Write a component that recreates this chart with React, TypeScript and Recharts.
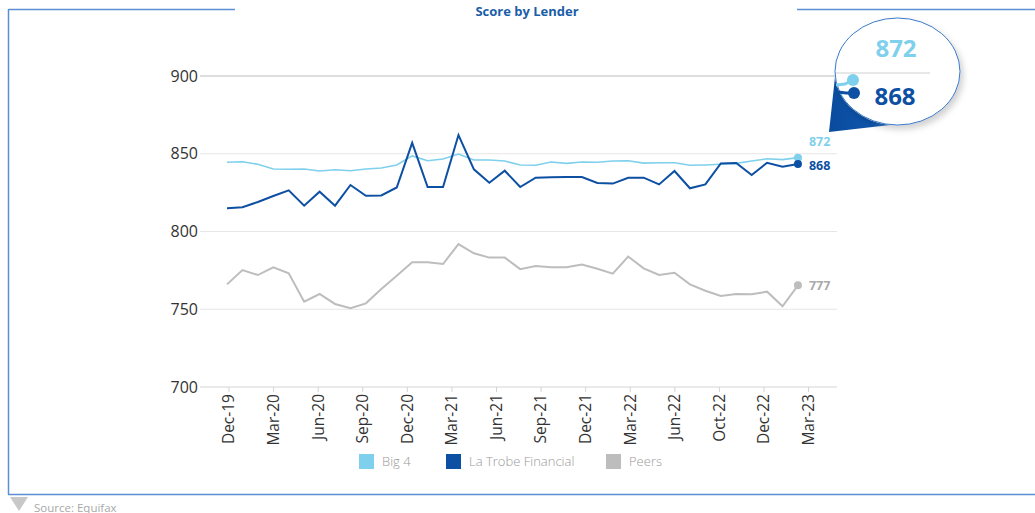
import { LineChart, Line, XAxis, YAxis, CartesianGrid, ReferenceLine } from 'recharts'

const months = [
  'Dec-19', 'Jan-20', 'Feb-20', 'Mar-20', 'Apr-20', 'May-20', 'Jun-20', 'Jul-20', 'Aug-20', 'Sep-20',
  'Oct-20', 'Nov-20', 'Dec-20', 'Jan-21', 'Feb-21', 'Mar-21', 'Apr-21', 'May-21', 'Jun-21', 'Jul-21',
  'Aug-21', 'Sep-21', 'Oct-21', 'Nov-21', 'Dec-21', 'Jan-22', 'Feb-22', 'Mar-22', 'Apr-22', 'May-22',
  'Jun-22', 'Jul-22', 'Aug-22', 'Sep-22', 'Oct-22', 'Nov-22', 'Dec-22', 'Jan-23',
]

const big4 = [
  844.5, 844.9, 843.2, 840.2, 840.0, 840.2, 838.9, 839.7, 839.1, 840.2,
  840.8, 842.8, 848.6, 845.5, 846.6, 849.8, 846.0, 846.0, 845.3, 842.8,
  842.6, 844.7, 843.8, 844.7, 844.5, 845.3, 845.5, 844.0, 844.2, 844.2,
  842.6, 842.8, 843.2, 843.8, 845.3, 846.8, 846.2, 847.5,
]

const laTrobe = [
  815.0, 815.6, 819.0, 822.8, 826.5, 816.6, 825.6, 816.6, 829.9, 823.0,
  823.2, 828.3, 857.0, 828.6, 828.6, 862.0, 840.0, 831.4, 839.1, 828.6,
  834.6, 834.9, 835.0, 835.0, 831.2, 830.8, 834.6, 834.6, 830.3, 838.9,
  827.8, 830.3, 843.8, 844.0, 836.3, 844.2, 841.7, 843.4,
]

const peers = [
  766.0, 775.2, 772.0, 777.0, 773.1, 754.9, 759.8, 753.4, 750.6, 753.8,
  763.0, 771.5, 780.2, 780.2, 779.1, 791.9, 786.0, 783.2, 783.2, 775.8,
  777.8, 777.0, 777.0, 778.8, 776.0, 772.9, 783.9, 776.3, 772.0, 773.5,
  766.0, 761.9, 758.5, 759.8, 759.6, 761.3, 751.9, 765.4,
]

const tickLabels = ['Dec-19', 'Mar-20', 'Jun-20', 'Sep-20', 'Dec-20', 'Mar-21', 'Jun-21', 'Sep-21', 'Dec-21', 'Mar-22', 'Jun-22', 'Oct-22', 'Dec-22', 'Mar-23']
const yTicks = [700, 750, 800, 850, 900]

const endBig4 = '872'
const endLaTrobe = '868'
const endPeers = '777'

const C_BIG4 = '#7fd0ec'
const C_LT = '#0d4fa3'
const C_PEERS = '#bdbdbd'
const FONT = '"Open Sans", sans-serif'

const data = months.map((m, i) => ({ i, month: m, big4: big4[i], laTrobe: laTrobe[i], peers: peers[i] }))

// the source chart's quarter ticks don't sit exactly on the monthly points
const tickPos = tickLabels.map((_, k) => 0.13 + k * 2.889)

function endDot(color: string, label: string, labelColor: string, dy: number) {
  return (props: any) => {
    const { cx, cy, index } = props
    if (index !== data.length - 1) return <g key={`d${index}`} />
    return (
      <g key={`d${index}`}>
        <circle cx={cx} cy={cy} r={4} fill={color} />
        <text x={cx + 11} y={cy + dy} dominantBaseline="central" fontSize={12.5} fontWeight={700} fill={labelColor} fontFamily={FONT}>
          {label}
        </text>
      </g>
    )
  }
}

function XTick(props: any) {
  const { x, y, index } = props
  return (
    <text x={x} y={y} transform={`rotate(-90, ${x}, ${y})`} textAnchor="end" dy="0.35em" fontSize={15.5} fill="#333" fontFamily={FONT}>
      {tickLabels[index]}
    </text>
  )
}

function Callout() {
  return (
    <svg width={1035} height={513} style={{ position: 'absolute', left: 0, top: 0, pointerEvents: 'none' }}>
      <defs>
        <filter id="bubbleShadow" x="-20%" y="-20%" width="140%" height="150%">
          <feDropShadow dx="3" dy="4" stdDeviation="3" floodColor="#000" floodOpacity="0.18" />
        </filter>
        <linearGradient id="wedgeGrad" x1="0" y1="0" x2="1" y2="0">
          <stop offset="0%" stopColor="#0a4b9c" />
          <stop offset="70%" stopColor="#0d55ad" />
          <stop offset="100%" stopColor="#3a7cc9" />
        </linearGradient>
      </defs>
      <path d="M 835 77 L 829 132 L 890 125 A 62.5 53.5 0 0 1 835 77 Z" fill="url(#wedgeGrad)" />
      <ellipse cx={897.5} cy={71.5} rx={62.5} ry={53.5} fill="#fff" stroke="#3a78c9" strokeWidth={1} filter="url(#bubbleShadow)" />
      <line x1={836} y1={73} x2={930} y2={73} stroke="#cfcfcf" strokeWidth={1} />
      <polyline points="836,85 845,84 853,80" fill="none" stroke={C_BIG4} strokeWidth={3} />
      <polyline points="838,92 846,93 854,93" fill="none" stroke={C_LT} strokeWidth={3} />
      <circle cx={853} cy={80} r={6} fill={C_BIG4} />
      <circle cx={854} cy={93} r={6} fill={C_LT} />
      <text x={896} y={47} textAnchor="middle" dominantBaseline="central" fontSize={24} fontWeight={700} fill={C_BIG4} fontFamily={FONT}>
        {endBig4}
      </text>
      <text x={895} y={95} textAnchor="middle" dominantBaseline="central" fontSize={24} fontWeight={700} fill={C_LT} fontFamily={FONT}>
        {endLaTrobe}
      </text>
    </svg>
  )
}

function Frame() {
  const blue = '#5b8fd4'
  return (
    <svg width={1035} height={513} style={{ position: 'absolute', left: 0, top: 0, pointerEvents: 'none' }}>
      <line x1={8.5} y1={9.5} x2={235} y2={9.5} stroke={blue} strokeWidth={1.5} />
      <line x1={797} y1={9.5} x2={1035} y2={9.5} stroke={blue} strokeWidth={1.5} />
      <line x1={8.5} y1={9} x2={8.5} y2={494.5} stroke={blue} strokeWidth={1.5} />
      <line x1={8} y1={494.5} x2={1035} y2={494.5} stroke={blue} strokeWidth={1.5} />
      <polygon points="10,497 28,497 19,511" fill="#c8c8c8" />
      <text x={34} y={507} dominantBaseline="central" fontSize={11.5} fill="#a8a8a8" fontFamily={FONT}>Source: Equifax</text>
      <text x={527} y={11} textAnchor="middle" dominantBaseline="central" fontSize={13} fontWeight={700} fill="#1a5ea8" fontFamily={FONT}>
        Score by Lender
      </text>
    </svg>
  )
}

const legendItems = [
  { label: 'Big 4', color: C_BIG4, left: 359 },
  { label: 'La Trobe Financial', color: C_LT, left: 446 },
  { label: 'Peers', color: C_PEERS, left: 606 },
]

export default function App() {
  return (
    <div style={{ position: 'absolute', left: 0, top: 0, width: 1035, height: 513, background: '#fff', fontFamily: FONT }}>
      <LineChart width={1035} height={513} data={data} margin={{ top: 76, right: 198, left: 160, bottom: 66 }}>
        <CartesianGrid vertical={false} stroke="#e6e6e6" />
        <ReferenceLine y={900} stroke="#c9c9c9" />
        <XAxis
          type="number"
          dataKey="i"
          domain={[-1.75, 39.53]}
          ticks={tickPos}
          interval={0}
          allowDataOverflow
          height={60}
          tickSize={5}
          tickMargin={2}
          tickLine={{ stroke: '#d3d3d3' }}
          axisLine={{ stroke: '#e0e0e0' }}
          tick={<XTick />}
        />
        <YAxis
          domain={[700, 900]}
          ticks={yTicks}
          width={40}
          axisLine={false}
          tickLine={false}
          tickSize={0}
          tickMargin={2}
          tick={{ fontSize: 16, fill: '#333', fontFamily: FONT }}
        />
        <Line dataKey="peers" stroke={C_PEERS} strokeWidth={2} dot={endDot(C_PEERS, endPeers, '#a9a9a9', 0)} activeDot={false} isAnimationActive={false} />
        <Line dataKey="big4" stroke={C_BIG4} strokeWidth={1.6} dot={endDot(C_BIG4, endBig4, C_BIG4, -16.5)} activeDot={false} isAnimationActive={false} />
        <Line dataKey="laTrobe" stroke={C_LT} strokeWidth={2} dot={endDot(C_LT, endLaTrobe, C_LT, 1)} activeDot={false} isAnimationActive={false} />
      </LineChart>
      {legendItems.map((it) => (
        <div key={it.label} style={{ position: 'absolute', left: it.left, top: 452, display: 'flex', alignItems: 'center', gap: 8 }}>
          <div style={{ width: 15, height: 15, background: it.color }} />
          <span style={{ fontSize: 13, color: '#999', fontWeight: 300 }}>{it.label}</span>
        </div>
      ))}
      <Frame />
      <Callout />
    </div>
  )
}
